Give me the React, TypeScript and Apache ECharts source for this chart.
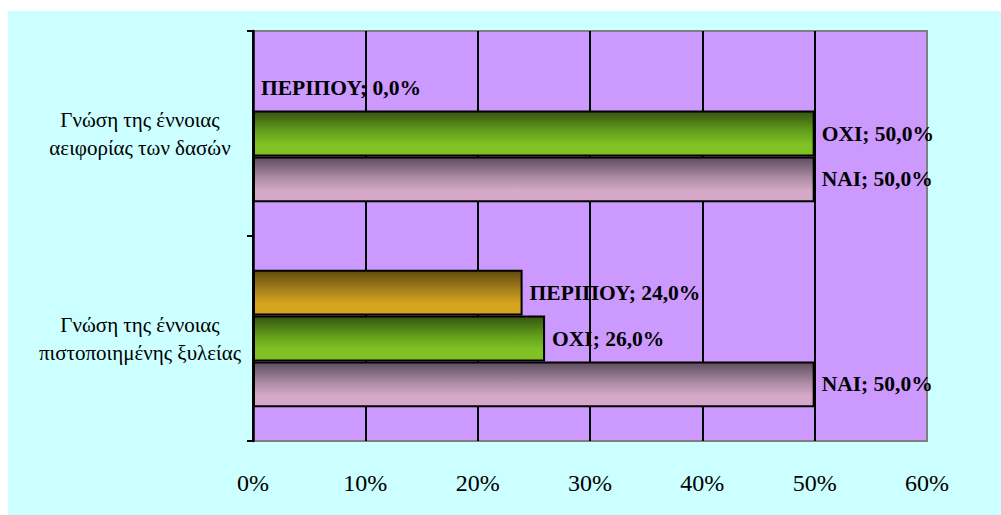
import React, { useEffect, useRef } from "react";
import * as echarts from "echarts";

const categories = [
  "Γνώση της έννοιας\nπιστοποιημένης ξυλείας",
  "Γνώση της έννοιας\nαειφορίας των δασών",
];
const seriesNames = ["ΠΕΡΙΠΟΥ", "ΟΧΙ", "ΝΑΙ"];
const peripouValues = [24.0, 0.0];
const oxiValues = [26.0, 50.0];
const naiValues = [50.0, 50.0];
const xTicks = [0, 10, 20, 30, 40, 50, 60];

const FONT = "'Liberation Serif', 'Times New Roman', Times, serif";

const gradients = [
  ["#624a0e", "#a8821a", "#d6a520"],
  ["#36540f", "#63a01c", "#80c224"],
  ["#5f4b5d", "#a88aa2", "#d4a8c6"],
];

function grad(c: string[]) {
  return new echarts.graphic.LinearGradient(0, 0, 0, 1, [
    { offset: 0, color: c[0] },
    { offset: 0.45, color: c[1] },
    { offset: 0.75, color: c[2] },
    { offset: 1, color: c[2] },
  ]);
}

export default function App() {
  const ref = useRef<HTMLDivElement>(null);
  useEffect(() => {
    if (!ref.current) return;
    const chart = echarts.init(ref.current, null, { renderer: "svg" });
    const dataSets = [peripouValues, oxiValues, naiValues];
    chart.setOption({
      animation: false,
      backgroundColor: "#ccffff",
      textStyle: { fontFamily: FONT },
      grid: {
        left: 245,
        top: 20,
        right: 74,
        bottom: 74,
        show: true,
        backgroundColor: "#cc99ff",
        borderColor: "#808080",
        borderWidth: 2,
      },
      xAxis: {
        type: "value",
        min: xTicks[0],
        max: xTicks[xTicks.length - 1],
        interval: 10,
        axisLine: { show: false },
        axisTick: { show: false },
        axisLabel: {
          formatter: (v: number) => `${v}%`,
          color: "#000",
          fontFamily: FONT,
          fontSize: 24,
          margin: 30,
        },
        splitLine: {
          show: true,
          lineStyle: {
            color: ["#000", "#000", "#000", "#000", "#000", "#000", "#808080"],
            width: 2,
          },
        },
      },
      yAxis: {
        type: "category",
        data: categories,
        axisLine: { show: true, lineStyle: { color: "#000", width: 2.5 } },
        axisTick: { show: true, length: 6, lineStyle: { color: "#000", width: 2 } },
        axisLabel: {
          color: "#000",
          fontFamily: FONT,
          fontSize: 21,
          lineHeight: 28,
          align: "center",
          margin: 113,
        },
      },
      series: seriesNames.map((name, i) => ({
        name,
        type: "bar",
        data: dataSets[i],
        barGap: "0%",
        barCategoryGap: "33%",
        itemStyle: {
          color: grad(gradients[i]),
          borderColor: "#000",
          borderWidth: 2,
        },
        label: {
          show: true,
          position: "right",
          distance: 7,
          color: "#000",
          fontFamily: FONT,
          fontWeight: "bold",
          fontSize: 21.5,
          formatter: (p: any) =>
            `${p.seriesName}; ${Number(p.value).toFixed(1).replace(".", ",")}%`,
        },
      })),
    });
    return () => chart.dispose();
  }, []);
  return (
    <div
      ref={ref}
      style={{ position: "fixed", left: 8, top: 11, width: 993, height: 504 }}
    />
  );
}
